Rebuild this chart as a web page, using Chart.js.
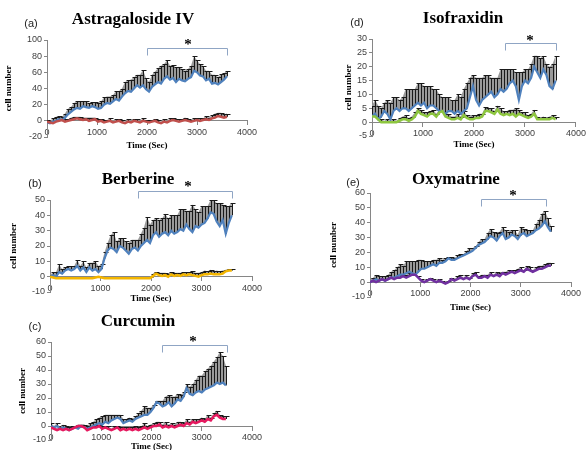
<!DOCTYPE html>
<html>
<head>
<meta charset="utf-8">
<script src="https://cdn.jsdelivr.net/npm/chart.js@4.4.1/dist/chart.umd.min.js"></script>
<style>
  body { margin: 0; background: #fff; width: 588px; height: 450px; overflow: hidden; position: relative; }
  canvas { position: absolute; }
</style>
</head>
<body>
<canvas id="chartA" width="300" height="160" style="left:0;top:0"></canvas>
<canvas id="chartB" width="300" height="150" style="left:0;top:160px"></canvas>
<canvas id="chartC" width="300" height="150" style="left:0;top:300px"></canvas>
<canvas id="chartD" width="268" height="160" style="left:320px;top:0"></canvas>
<canvas id="chartE" width="268" height="160" style="left:320px;top:160px"></canvas>
<script>
// time points (sec)
const times = [0, 60, 120, 180, 240, 300, 360, 420, 480, 540,
  600, 660, 720, 780, 840, 900, 960, 1020, 1080, 1140,
  1200, 1260, 1320, 1380, 1440, 1500, 1560, 1620, 1680, 1740,
  1800, 1860, 1920, 1980, 2040, 2100, 2160, 2220, 2280, 2340,
  2400, 2460, 2520, 2580, 2640, 2700, 2760, 2820, 2880, 2940,
  3000, 3060, 3120, 3180, 3240, 3300, 3360, 3420, 3480, 3540, 3600];
const xTicks = [0, 1000, 2000, 3000, 4000];

// (a) Astragaloside IV
const astraMean = [-2,-3,-1,0,2,1,4,8,11,14, 16,15,18,17,16,18,17,15,16,20, 22,21,24,27,25,30,34,37,36,40,
  44,41,44,39,36,42,45,48,46,52, 55,51,53,48,52,50,49,52,54,62, 60,56,55,50,52,46,47,45,48,51, 55];
const astraErr = [3,3,4,5,4,4,5,7,6,8, 8,9,6,7,6,5,6,7,8,9, 8,9,8,10,12,10,14,13,15,14,
  13,16,19,14,12,15,16,17,22,18, 20,17,16,18,15,14,13,12,14,18, 15,14,13,12,10,11,10,9,10,8, 7];
const astraCtrl = [-1,-2,-3,-1,0,1,-1,0,1,2, 3,2,1,2,0,1,2,-1,0,-2, -1,0,-2,-1,0,-2,-3,-1,-2,0,
  -1,-2,0,-1,-2,-1,0,-2,-3,-1, -2,0,1,0,-1,0,1,0,-1,0, 1,0,1,2,1,3,4,6,5,4, 5];
const astraCtrlErr = [2,2,3,2,3,2,3,2,3,3, 2,3,3,2,4,3,2,3,2,3, 2,3,2,3,2,3,2,3,2,2,
  3,2,3,2,3,2,2,3,2,3, 2,3,2,2,3,2,3,2,2,3, 2,3,2,4,3,4,5,4,5,4, 4];

// (b) Berberine
const berbMean = [0,1,0,3,2,4,5,4,5,7, 4,6,3,6,4,5,3,5,12,17, 19,18,16,20,19,17,15,18,19,17,
  20,22,24,22,27,29,26,28,29,27, 30,28,29,31,30,34,31,29,33,32, 34,35,38,42,41,36,33,37,28,35, 40];
const berbErr = [1,2,3,5,3,2,2,3,2,4, 3,4,3,3,5,5,4,3,4,5, 8,11,7,5,6,6,7,6,5,7,
  8,10,15,12,10,9,11,10,12,11, 10,12,11,13,14,9,12,18,11,10, 12,11,8,8,9,12,15,10,18,11, 8];
const berbCtrl = [0,-0.5,-1,-1,-1,-1,-1,-1,-1,-1, -1,-1,-1,-1,-1,-0.5,0,-0.5,-1,-1, -1,-1,-1,-1,-1,-1,-1,-1,-1,-1,
  -1,-1,-1,-1,0.5,2,1,0.5,1,0, 1.5,0.5,1,0.5,1.5,1,1.5,1,0.5,0, 1,1.5,1.5,2,1.5,1.5,1.5,2,3.5,4, 4];
const berbCtrlErr = [0.5,0.5,0.5,0.5,0.5,0.5,0.5,0.5,0.5,0.5, 0.5,0.5,0.5,0.5,0.5,0.5,0.5,0.5,0.5,0.5,
  0.5,0.5,0.5,0.5,0.5,0.5,0.5,0.5,0.5,0.5, 0.5,0.5,0.5,0.5,1.5,1,1.5,2,1.5,2,
  1.5,2,1.5,2,1.5,2,1.5,2.5,2,2.5, 2,2.5,2,2.5,2,2.5,2,2,1,1, 1];

// (c) Curcumin (ends at 3480 s)
const curcMean = [0,-1,0,-2,-1,-2,-3,-2,-1,-2, 0,-1,-2,-1,0,1,2,1,3,2, 4,5,6,5,2,3,4,3,5,6,
  7,8,8,10,13,17,16,14,15,17, 14,16,19,18,21,27,23,22,24,25, 24,26,27,28,29,31,30,31,29];
const curcErr = [2,1,2,1,2,1,2,1,1,1, 1,2,2,3,3,4,4,6,5,6, 4,3,2,3,3,2,2,2,2,3,
  4,6,5,3,2,1,2,4,6,5, 7,5,4,4,3,3,5,8,9,11, 12,13,14,15,17,18,23,19,14];
const curcCtrl = [-1,-2,-3,-2,-3,-2,-3,-2,-1,0, 0,-1,-3,-2,-1,-1,0,-2,-1,-2, -3,-2,-1,-3,-2,-3,-2,-3,-2,-3,
  -2,-1,-2,-1,0,0,1,-1,0,-1, 0,-1,0,1,0,2,1,3,2,3, 4,3,5,4,7,8,6,5,5];
const curcCtrlErr = [1,2,1,2,1,2,1,2,1,1, 1,2,1,2,1,2,1,2,1,2, 1,2,1,2,1,2,1,2,2,2,
  2,3,2,2,2,3,2,2,3,2, 2,2,3,2,2,3,2,2,3,2, 2,2,3,2,2,3,2,2,2];

// (d) Isofraxidin
const isoMean = [2,3,1,2,4,3,1,4,5,4, 5,5,4,5,6,7,6,7,5,6, 6,5,4,4,3,4,4,3,4,3,
  4,5,9,13,8,6,8,9,10,11, 9,10,12,11,12,14,15,13,8,13, 15,14,16,20,18,16,19,17,13,12, 15];
const isoErr = [4,5,5,3,3,5,6,5,4,4, 4,7,8,7,6,7,8,6,8,7, 6,7,6,5,6,5,4,5,6,6,
  8,9,7,4,8,10,8,8,7,5, 7,6,7,8,7,5,4,5,10,5, 4,5,5,4,6,7,5,4,7,9, 9];
const isoCtrl = [2,2,1,0,0,0,0,0,0,0.5, 1,1,0.5,1,2,4,3,2.5,2,3, 3,2,3.5,4,2,1.5,1,1,1.5,1,
  2.5,1.5,1,1,1.5,1.5,2,4,4,3.5, 3,4.5,3,2.5,3,2.5,3,2,3,2.5, 2,1.5,2,3,1,1,1,1,1,1.5, 1];
const isoCtrlErr = [1.5,1,1,1,0.5,1,0.5,1,0.5,1, 1,1.5,1,1,1.5,1,1.5,1,1.5,1, 1.5,1,1,1.5,1,1.5,1,1,1.5,1,
  1.5,1,1,1.5,1,1.5,1,1.5,1,1.5, 1,1.5,2,1.5,1,2,1.5,3,1.5,1, 1.5,1,1,1.5,1,0.5,1,0.5,1,1, 1];

// (e) Oxymatrine
const oxyMean = [0,1,2,1,2,1,2,3,3,4, 5,5,6,7,6,5,7,9,9,10, 11,12,11,13,13,14,16,15,15,16,
  17,18,19,20,21,23,25,26,27,29, 31,30,28,31,33,29,30,32,31,29, 32,33,31,32,33,35,36,38,41,37, 34];
const oxyErr = [1,2,3,3,2,3,3,4,5,6, 7,6,8,7,8,9,8,6,5,4, 3,3,4,3,2,2,1,2,1,2,
  2,1,2,3,2,1,2,3,2,4, 5,4,5,3,4,6,4,3,4,3, 5,3,4,3,2,4,6,8,7,6, 4];
const oxyCtrl = [0,1,0,1,2,1,2,3,2,3, 3,4,3,4,5,5,3,1,0,1, 2,1,0,1,0,-1,0,2,1,2,
  3,2,3,2,4,5,3,3,4,3, 5,4,5,4,6,5,6,7,6,7, 8,7,9,8,7,8,9,9,10,11, 11];
const oxyCtrlErr = [1,2,1,2,1,2,1,2,1,2, 2,1,2,2,1,2,1,1,1,1, 1,1,1,1,1,1,1,1,1,2,
  2,1,2,1,2,2,1,2,1,2, 2,1,2,2,1,2,2,1,2,2, 2,1,2,2,1,2,2,2,2,2, 2];

// significance brackets (sec)
const astraSig = [2000, 3600];
const berbSig = [1750, 3600];
const curcSig = [2200, 3500];
const isoSig = [2600, 3600];
const oxySig = [2200, 3500];

const BLUE = "#4F81BD";
const AXIS = "#868686";
const tickFont = { family: "Liberation Sans", size: 9 };

function pts(vals) {
  return vals.map((v, i) => ({ x: times[i], y: v }));
}

// upward error bars with caps, drawn under the lines
const errorBars = {
  id: "errorBars",
  beforeDatasetsDraw(chart) {
    const { ctx, chartArea: a, scales: { x, y } } = chart;
    ctx.save();
    ctx.beginPath();
    ctx.rect(a.left, a.top, a.right - a.left, a.bottom - a.top);
    ctx.clip();
    chart.data.datasets.forEach((ds) => {
      if (!ds.errors) return;
      // grey band between mean and mean + error
      ctx.fillStyle = "#9a9a9a";
      ctx.beginPath();
      ds.data.forEach((p, j) => {
        const px = x.getPixelForValue(p.x);
        const py = y.getPixelForValue(p.y + ds.errors[j]);
        if (j === 0) ctx.moveTo(px, py); else ctx.lineTo(px, py);
      });
      for (let j = ds.data.length - 1; j >= 0; j--) {
        ctx.lineTo(x.getPixelForValue(ds.data[j].x), y.getPixelForValue(ds.data[j].y));
      }
      ctx.closePath();
      ctx.fill();

      ctx.strokeStyle = "#1a1a1a";
      ctx.lineWidth = 1;
      ds.data.forEach((p, j) => {
        const px = Math.round(x.getPixelForValue(p.x)) + 0.5;
        const y0 = y.getPixelForValue(p.y);
        const y1 = Math.round(y.getPixelForValue(p.y + ds.errors[j])) + 0.5;
        ctx.beginPath();
        ctx.moveTo(px, y0);
        ctx.lineTo(px, y1);
        ctx.moveTo(px - 2, y1);
        ctx.lineTo(px + 3, y1);
        ctx.stroke();
      });
    });
    ctx.restore();
  },
};

// titles, axis titles, bracket and star
const panelText = {
  id: "panelText",
  afterDraw(chart, args, o) {
    const { ctx, chartArea: a, scales: { x } } = chart;
    ctx.save();
    ctx.textAlign = "center";
    ctx.textBaseline = "middle";
    ctx.font = '11px "Liberation Sans"';
    ctx.fillStyle = "#222";
    ctx.fillText(o.letter, o.letterX, o.letterY);
    ctx.fillStyle = "#000";
    ctx.font = 'bold 17px "Liberation Serif"';
    ctx.fillText(o.name, o.nameX, o.nameY);
    ctx.font = 'bold 9px "Liberation Serif"';
    ctx.fillText("Time (Sec)", (a.left + a.right) / 2, o.xTitleY);
    ctx.save();
    ctx.translate(o.yTitleX, (a.top + a.bottom) / 2);
    ctx.rotate(-Math.PI / 2);
    ctx.fillText("cell number", 0, 0);
    ctx.restore();

    const x1 = Math.round(x.getPixelForValue(o.bracket[0])) + 0.5;
    const x2 = Math.round(x.getPixelForValue(o.bracket[1])) + 0.5;
    const by = o.bracketY + 0.5;
    ctx.strokeStyle = "#8FA5C4";
    ctx.lineWidth = 1;
    ctx.beginPath();
    ctx.moveTo(x1, by + 7);
    ctx.lineTo(x1, by);
    ctx.lineTo(x2, by);
    ctx.lineTo(x2, by + 7);
    ctx.stroke();

    ctx.textBaseline = "alphabetic";
    ctx.font = 'bold 15px "Liberation Serif"';
    ctx.fillText("*", o.starX, o.starY + 8);
    ctx.restore();
  },
};

function makePanel(id, p) {
  const canvas = document.getElementById(id);
  return new Chart(canvas, {
    type: "line",
    data: {
      datasets: [
        { data: pts(p.ctrl), errors: p.ctrlErr, borderColor: p.ctrlColor, borderWidth: 2.5 },
        { data: pts(p.mean), errors: p.err, borderColor: BLUE, borderWidth: 2.2 },
      ],
    },
    options: {
      responsive: false,
      animation: false,
      devicePixelRatio: 1,
      parsing: false,
      elements: { point: { radius: 0 }, line: { tension: 0 } },
      layout: {
        padding: { left: 0, top: p.area[2], right: canvas.width - p.area[1], bottom: canvas.height - p.area[3] },
      },
      plugins: {
        legend: { display: false },
        tooltip: { enabled: false },
        panelText: p.text,
      },
      scales: {
        x: {
          type: "linear",
          min: xTicks[0],
          max: xTicks[xTicks.length - 1],
          position: { y: 0 },
          afterBuildTicks: (s) => { s.ticks = xTicks.map((v) => ({ value: v })); },
          ticks: { font: tickFont, color: "#404040", padding: 2, maxRotation: 0, autoSkip: false, callback: (v) => String(v) },
          grid: { drawOnChartArea: false, tickLength: 4, color: AXIS },
          border: { color: AXIS },
        },
        y: {
          min: p.yTicks[0],
          max: p.yTicks[p.yTicks.length - 1],
          afterBuildTicks: (s) => { s.ticks = p.yTicks.map((v) => ({ value: v })); },
          afterFit: (s) => { s.width = p.area[0]; },
          ticks: { font: tickFont, color: "#404040", padding: 2, callback: (v) => String(v) },
          grid: { drawOnChartArea: false, tickLength: 3, color: AXIS },
          border: { color: AXIS },
        },
      },
    },
    plugins: [errorBars, panelText],
  });
}

makePanel("chartA", {
  mean: astraMean, err: astraErr, ctrl: astraCtrl, ctrlErr: astraCtrlErr, ctrlColor: "#C0504D",
  yTicks: [-20, 0, 20, 40, 60, 80, 100], area: [47, 247, 40, 137],
  text: { letter: "(a)", letterX: 31, letterY: 24, name: "Astragaloside IV", nameX: 133, nameY: 20,
    starX: 188, starY: 41, bracketY: 48, bracket: astraSig, yTitleX: 9, xTitleY: 146 },
});
makePanel("chartB", {
  mean: berbMean, err: berbErr, ctrl: berbCtrl, ctrlErr: berbCtrlErr, ctrlColor: "#F3B500",
  yTicks: [-10, 0, 10, 20, 30, 40, 50], area: [50, 252, 40, 132],
  text: { letter: "(b)", letterX: 35, letterY: 24, name: "Berberine", nameX: 138, nameY: 20,
    starX: 188, starY: 23, bracketY: 31, bracket: berbSig, yTitleX: 14, xTitleY: 139 },
});
makePanel("chartC", {
  mean: curcMean, err: curcErr, ctrl: curcCtrl, ctrlErr: curcCtrlErr, ctrlColor: "#E6195F",
  yTicks: [-10, 0, 10, 20, 30, 40, 50, 60], area: [51, 252, 42, 140],
  text: { letter: "(c)", letterX: 35, letterY: 27, name: "Curcumin", nameX: 138, nameY: 22,
    starX: 193, starY: 38, bracketY: 45, bracket: curcSig, yTitleX: 23, xTitleY: 147 },
});
makePanel("chartD", {
  mean: isoMean, err: isoErr, ctrl: isoCtrl, ctrlErr: isoCtrlErr, ctrlColor: "#8DC63F",
  yTicks: [-5, 0, 5, 10, 15, 20, 25, 30], area: [52, 257, 39, 136],
  text: { letter: "(d)", letterX: 37, letterY: 23, name: "Isofraxidin", nameX: 143, nameY: 19,
    starX: 210, starY: 37, bracketY: 43, bracket: isoSig, yTitleX: 29, xTitleY: 145 },
});
makePanel("chartE", {
  mean: oxyMean, err: oxyErr, ctrl: oxyCtrl, ctrlErr: oxyCtrlErr, ctrlColor: "#7030A0",
  yTicks: [-10, 0, 10, 20, 30, 40, 50, 60], area: [50, 251, 33, 137],
  text: { letter: "(e)", letterX: 33, letterY: 23, name: "Oxymatrine", nameX: 136, nameY: 20,
    starX: 193, starY: 32, bracketY: 39, bracket: oxySig, yTitleX: 14, xTitleY: 148 },
});
</script>
</body>
</html>
